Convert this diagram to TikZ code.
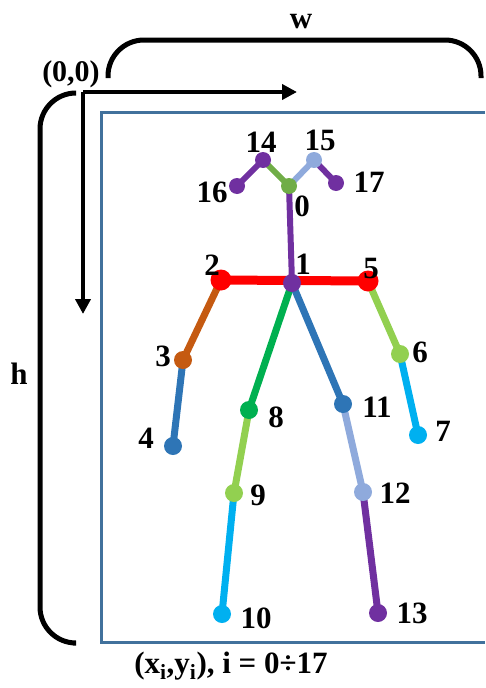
\documentclass[tikz,border=0pt]{standalone}
\usepackage{fontspec}
\setmainfont{Liberation Serif}
\usetikzlibrary{arrows.meta,backgrounds}
\definecolor{kpred}{RGB}{255,0,0}
\definecolor{kporange}{RGB}{197,90,17}
\definecolor{kpblue}{RGB}{46,117,182}
\definecolor{kpgreen}{RGB}{0,176,80}
\definecolor{kplime}{RGB}{146,208,80}
\definecolor{kpcyan}{RGB}{0,176,240}
\definecolor{kpsky}{RGB}{143,170,220}
\definecolor{kppurple}{RGB}{112,48,160}
\definecolor{kpolive}{RGB}{112,173,71}
\definecolor{kpframe}{RGB}{65,113,156}
\tikzset{
  joint/.style={circle, draw=none, inner sep=0pt, minimum size=18pt},
  bigjoint/.style={joint, minimum size=21pt},
  headjoint/.style={joint, minimum size=16pt},
  limb/.style={line width=7pt},
  num/.style={inner sep=0pt, font=\fontsize{31}{32}\selectfont\bfseries},
  brace/.style={line width=5pt, rounded corners=36pt},
  axis/.style={-{Triangle[length=15pt,width=15pt]}, line width=4pt},
}

\begin{document}
\begin{tikzpicture}[x=1pt,y=-1pt]
    \useasboundingbox (0,0) rectangle (485,688);
    % image frame
    \draw[kpframe, line width=3pt] (485,112) -- (101,112) -- (101,642) -- (485,642);

    % width / height braces
    \draw[brace] (108,78) |- (300,40) -| (481,78);
    \draw[brace] (73,93) -| (40,300) |- (73,643);
    \node[num] (w) at (301,22) {w};
    \node[num] (h) at (19,374) {h};

    % axes
    \coordinate (o) at (83,92);
    \coordinate (xend) at (297,92);
    \coordinate (yend) at (83,314);
    \draw[axis] (o) -- (xend);
    \draw[axis] (o) -- (yend);
    \node[num, font=\fontsize{30}{32}\selectfont\bfseries] (orig) at (71,74) {(0,0)};

    % joints
    \node[headjoint, fill=kpolive] (j0) at (289,186) {};
    \node[joint, fill=kppurple] (j1) at (292,283) {};
    \node[bigjoint, fill=kpred] (j2) at (221,280) {};
    \node[joint, fill=kporange] (j3) at (183,360) {};
    \node[joint, fill=kpblue] (j4) at (173,446) {};
    \node[bigjoint, fill=kpred] (j5) at (368,281) {};
    \node[joint, fill=kplime] (j6) at (400,354) {};
    \node[joint, fill=kpcyan] (j7) at (418,435) {};
    \node[joint, fill=kpgreen] (j8) at (249,410) {};
    \node[joint, fill=kplime] (j9) at (234,493) {};
    \node[joint, fill=kpcyan] (j10) at (222,614) {};
    \node[joint, fill=kpblue] (j11) at (343,404) {};
    \node[joint, fill=kpsky] (j12) at (363,492) {};
    \node[joint, fill=kppurple] (j13) at (378,613) {};
    \node[headjoint, fill=kppurple] (j14) at (263,160) {};
    \node[headjoint, fill=kpsky] (j15) at (314,160) {};
    \node[headjoint, fill=kppurple] (j16) at (237,186) {};
    \node[headjoint, fill=kppurple] (j17) at (336,183) {};

    % limbs
    \begin{scope}[on background layer]
    \draw[limb, line width=9pt, kpred] (j2.center) -- (j5.center);
    \draw[limb, line width=6pt, kppurple] (j0.center) -- (j1.center);
    \draw[limb, line width=6pt, kpolive] (j0.center) -- (j14.center);
    \draw[limb, line width=6pt, kpsky] (j0.center) -- (j15.center);
    \draw[limb, line width=6pt, kppurple] (j14.center) -- (j16.center);
    \draw[limb, line width=6pt, kppurple] (j15.center) -- (j17.center);
    \draw[limb, kporange] (j2.center) -- (j3.center);
    \draw[limb, kpblue] (j3.center) -- (j4.center);
    \draw[limb, kplime] (j5.center) -- (j6.center);
    \draw[limb, kpcyan] (j6.center) -- (j7.center);
    \draw[limb, kpgreen] (j1.center) -- (j8.center);
    \draw[limb, kplime] (j8.center) -- (j9.center);
    \draw[limb, kpcyan] (j9.center) -- (j10.center);
    \draw[limb, kpblue] (j1.center) -- (j11.center);
    \draw[limb, kpsky] (j11.center) -- (j12.center);
    \draw[limb, kppurple] (j12.center) -- (j13.center);
    \end{scope}

    % joint numbers
    \node[num] (n0) at (302,206) {0};
    \node[num] (n1) at (303,264) {1};
    \node[num] (n2) at (212,265) {2};
    \node[num] (n3) at (163,356) {3};
    \node[num] (n4) at (146,438) {4};
    \node[num] (n5) at (371,268) {5};
    \node[num] (n6) at (420,352) {6};
    \node[num] (n7) at (443,431) {7};
    \node[num] (n8) at (276,417) {8};
    \node[num] (n9) at (258,495) {9};
    \node[num] (n10) at (256,618) {10};
    \node[num] (n11) at (377,407) {11};
    \node[num] (n12) at (395,493) {12};
    \node[num] (n13) at (412,613) {13};
    \node[num] (n14) at (261,142) {14};
    \node[num] (n15) at (320,140) {15};
    \node[num] (n16) at (212,192) {16};
    \node[num] (n17) at (369,182) {17};

    \node[num, font=\fontsize{31}{32}\selectfont\bfseries] (pts) at (231,666) {(x\textsubscript{i},y\textsubscript{i}), i = 0÷17};
\end{tikzpicture}
\end{document}
